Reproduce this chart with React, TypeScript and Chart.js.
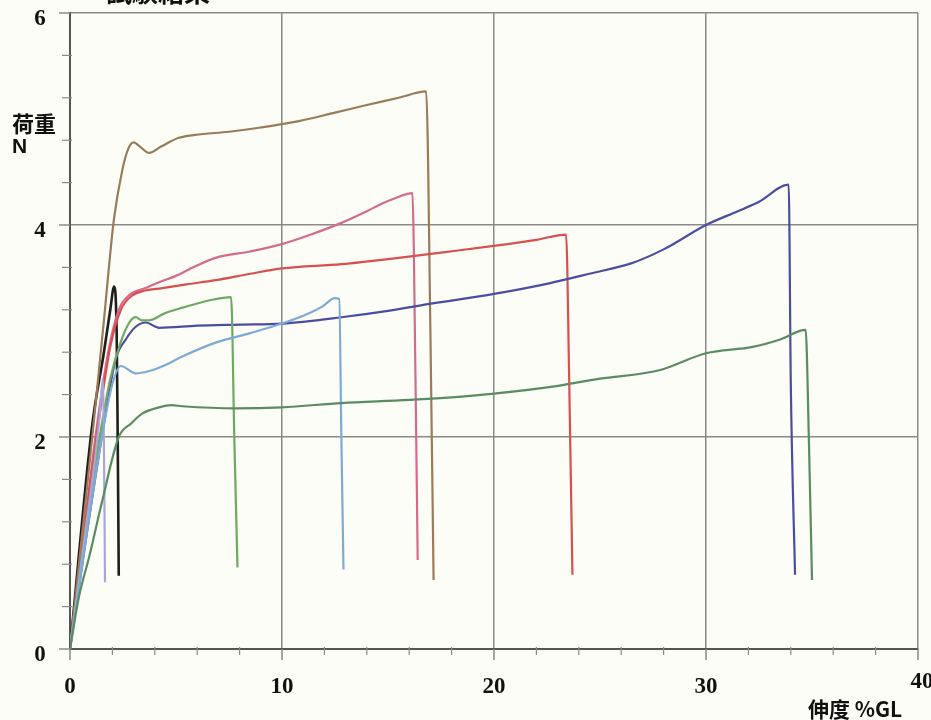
import React, { useEffect, useRef } from "react";
import { Chart, registerables } from "chart.js";

Chart.register(...registerables);

// ---- axis definitions ----
const xMajorTicks = [0, 10, 20, 30, 40];
const yMajorTicks = [0, 2, 4, 6];
const xMinorTicks = [2, 4, 6, 8, 12, 14, 16, 18, 22, 24, 26, 28, 32, 34, 36, 38];
const yMinorTicks = [0.4, 0.8, 1.2, 1.6, 2.4, 2.8, 3.2, 3.6, 4.4, 4.8, 5.2, 5.6];

const titleText = "試験結果";
const yTitle1 = "荷重";
const yTitle2 = "N";
const xTitle = "伸度 %GL";

// ---- series (elongation %GL, load N) ----
const brownX = [0, 0.5, 1.05, 1.6, 2.07, 2.47, 2.75, 3.0, 3.3, 3.73, 4.3, 5.1, 5.9, 7.5, 9, 10.8, 12.5, 13.95, 15.5, 16.8, 17.0, 17.15];
const brownY = [0, 0.95, 2.0, 3.1, 4.05, 4.52, 4.72, 4.78, 4.74, 4.68, 4.74, 4.82, 4.85, 4.88, 4.92, 4.98, 5.06, 5.13, 5.2, 5.26, 3.0, 0.65];

const pinkX = [0, 0.6, 1.2, 1.8, 2.3, 2.8, 3.5, 4.2, 5.0, 5.6, 6.87, 8.5, 10.0, 11.5, 12.8, 14.0, 14.7, 15.3, 16.15, 16.3, 16.4];
const pinkY = [0, 1.0, 2.0, 2.8, 3.2, 3.34, 3.4, 3.46, 3.52, 3.58, 3.69, 3.75, 3.82, 3.92, 4.02, 4.13, 4.2, 4.25, 4.3, 2.5, 0.84];

const redX = [0, 0.6, 1.25, 1.9, 2.4, 2.9, 3.5, 4.2, 5.5, 6.87, 8.5, 10, 12.8, 15.5, 17.5, 19.9, 22, 23.4, 23.55, 23.7];
const redY = [0, 1.0, 2.0, 2.85, 3.2, 3.33, 3.38, 3.4, 3.44, 3.48, 3.54, 3.59, 3.63, 3.69, 3.74, 3.8, 3.86, 3.91, 2.5, 0.7];

const blueX = [0, 0.8, 1.5, 2.15, 2.63, 3.1, 3.57, 4.2, 6, 8, 10, 12.8, 15, 17.1, 20, 22.6, 24.5, 26.5, 28, 30, 31.5, 32.5, 33.9, 34.0, 34.2];
const blueY = [0, 1.1, 2.0, 2.73, 2.92, 3.04, 3.08, 3.03, 3.05, 3.06, 3.07, 3.13, 3.19, 3.26, 3.35, 3.45, 3.54, 3.64, 3.77, 4.0, 4.13, 4.22, 4.38, 2.5, 0.7];

const greenX = [0, 0.7, 1.4, 1.9, 2.4, 2.8, 3.1, 3.4, 3.7, 4.5, 5.3, 6.6, 7.6, 7.75, 7.9];
const greenY = [0, 1.1, 2.0, 2.55, 2.9, 3.08, 3.13, 3.1, 3.1, 3.17, 3.22, 3.29, 3.32, 2.0, 0.77];

const lightBlueX = [0, 0.8, 1.5, 2.0, 2.4, 3.1, 3.7, 4.5, 5.3, 6.87, 8.5, 10, 11.2, 11.9, 12.5, 12.7, 12.8, 12.9];
const lightBlueY = [0, 1.1, 2.0, 2.5, 2.67, 2.6, 2.62, 2.68, 2.76, 2.89, 2.98, 3.07, 3.16, 3.23, 3.31, 3.3, 2.0, 0.75];

const blackX = [0, 1.04, 1.6, 1.9, 2.08, 2.2, 2.25, 2.3];
const blackY = [0, 2.1, 2.8, 3.2, 3.42, 3.0, 2.0, 0.69];

const lavenderX = [0, 0.8, 1.4, 1.55, 1.62, 1.65];
const lavenderY = [0, 1.2, 2.2, 2.55, 1.5, 0.63];

const darkGreenX = [0, 0.42, 0.93, 1.5, 2.3, 2.9, 3.4, 4.2, 4.8, 5.3, 7.8, 10, 12.8, 16, 19, 22.6, 25, 27.8, 30, 32.2, 33.5, 34.7, 34.85, 35.0];
const darkGreenY = [0, 0.49, 0.89, 1.38, 2.0, 2.13, 2.22, 2.28, 2.3, 2.29, 2.27, 2.28, 2.32, 2.35, 2.39, 2.47, 2.55, 2.63, 2.79, 2.85, 2.92, 3.01, 2.0, 0.65];

const seriesList = [
  { label: "dark green", xs: darkGreenX, ys: darkGreenY, color: "#5a8c62" },
  { label: "light blue", xs: lightBlueX, ys: lightBlueY, color: "#7eaad6" },
  { label: "lavender", xs: lavenderX, ys: lavenderY, color: "#a9a6dc" },
  { label: "green", xs: greenX, ys: greenY, color: "#6fa862" },
  { label: "blue", xs: blueX, ys: blueY, color: "#4a4ea2" },
  { label: "red", xs: redX, ys: redY, color: "#d8504e" },
  { label: "pink", xs: pinkX, ys: pinkY, color: "#d66a8c" },
  { label: "brown", xs: brownX, ys: brownY, color: "#9c7b58" },
  { label: "black", xs: blackX, ys: blackY, color: "#1e1e1e" },
];

const BG = "#fdfdf7";
const GRID = "#8a8a8a";
const AXIS = "#555555";

const decoPlugin = {
  id: "deco",
  beforeDraw(chart: any) {
    const ctx = chart.ctx;
    ctx.save();
    ctx.fillStyle = BG;
    ctx.fillRect(0, 0, chart.width, chart.height);
    ctx.restore();
  },
  beforeDatasetsDraw(chart: any) {
    const ctx = chart.ctx;
    const xs = chart.scales.x;
    const ys = chart.scales.y;
    const { left, bottom } = chart.chartArea;
    ctx.save();
    ctx.strokeStyle = GRID;
    ctx.lineWidth = 1.5;
    xMajorTicks.forEach((v) => {
      const px = xs.getPixelForValue(v);
      ctx.beginPath();
      ctx.moveTo(px, bottom);
      ctx.lineTo(px, bottom + 11);
      ctx.stroke();
    });
    yMajorTicks.forEach((v) => {
      const py = ys.getPixelForValue(v);
      ctx.beginPath();
      ctx.moveTo(left, py);
      ctx.lineTo(left - 11, py);
      ctx.stroke();
    });
    ctx.lineWidth = 1.2;
    xMinorTicks.forEach((v) => {
      const px = xs.getPixelForValue(v);
      ctx.beginPath();
      ctx.moveTo(px, bottom - 2);
      ctx.lineTo(px, bottom + 6);
      ctx.stroke();
    });
    yMinorTicks.forEach((v) => {
      const py = ys.getPixelForValue(v);
      ctx.beginPath();
      ctx.moveTo(left + 2, py);
      ctx.lineTo(left - 8, py);
      ctx.stroke();
    });
    ctx.restore();
  },
  afterDraw(chart: any) {
    const ctx = chart.ctx;
    const xs = chart.scales.x;
    const ys = chart.scales.y;
    const { left, bottom } = chart.chartArea;
    ctx.save();
    ctx.fillStyle = "#111";
    ctx.font = 'bold 23px "Liberation Serif", "DejaVu Serif", serif';
    ctx.textBaseline = "middle";
    ctx.textAlign = "center";
    xMajorTicks.forEach((v) => {
      const px = xs.getPixelForValue(v);
      const shift = v === 40 ? 4 : 0;
      ctx.fillText(String(v), Math.min(px + shift, chart.width - 7), bottom + (v === 40 ? 33 : 38));
    });
    yMajorTicks.forEach((v) => {
      const py = ys.getPixelForValue(v);
      ctx.fillText(String(v), left - 30, py + 6);
    });
    const cjk = '"Noto Sans CJK JP", "Noto Sans CJK SC", sans-serif';
    ctx.textAlign = "left";
    ctx.textBaseline = "middle";
    ctx.font = `bold 22px ${cjk}`;
    ctx.fillText(yTitle1, 12, 124);
    ctx.font = 'bold 21px "Liberation Sans", "DejaVu Sans", sans-serif';
    ctx.fillText(yTitle2, 12, 147);
    ctx.font = `bold 21px ${cjk}`;
    ctx.textAlign = "center";
    ctx.fillText(xTitle, 855, 709);
    ctx.font = `bold 26px ${cjk}`;
    ctx.textAlign = "left";
    ctx.textBaseline = "alphabetic";
    ctx.fillText(titleText, 106, 2);
    ctx.restore();
  },
};

export default function App() {
  const canvasRef = useRef<HTMLCanvasElement | null>(null);

  useEffect(() => {
    if (!canvasRef.current) return;
    const chart = new Chart(canvasRef.current, {
      type: "line",
      data: {
        datasets: seriesList.map((s) => ({
          label: s.label,
          data: s.xs.map((x, i) => ({ x, y: s.ys[i] })),
          borderColor: s.color,
          backgroundColor: s.color,
          borderWidth: s.label === "black" ? 2.6 : 2.2,
          pointRadius: 0,
          fill: false,
          cubicInterpolationMode: "monotone" as const,
        })),
      },
      options: {
        responsive: false,
        animation: false,
        layout: { padding: { left: 70, right: 13, top: 13, bottom: 71 } },
        plugins: {
          legend: { display: false },
          tooltip: { enabled: false },
        },
        scales: {
          x: {
            type: "linear",
            min: 0,
            max: 40,
            ticks: { display: false, stepSize: 10 },
            grid: { color: GRID, lineWidth: 1.5, drawTicks: false },
            border: { color: AXIS, width: 2 },
          },
          y: {
            type: "linear",
            min: 0,
            max: 6,
            ticks: { display: false, stepSize: 2 },
            grid: { color: GRID, lineWidth: 1.5, drawTicks: false },
            border: { color: AXIS, width: 2 },
          },
        },
      },
      plugins: [decoPlugin],
    });
    return () => chart.destroy();
  }, []);

  return (
    <div style={{ position: "absolute", left: 0, top: 0, width: 931, height: 720, background: BG }}>
      <canvas ref={canvasRef} width={931} height={720} style={{ display: "block" }} />
    </div>
  );
}
